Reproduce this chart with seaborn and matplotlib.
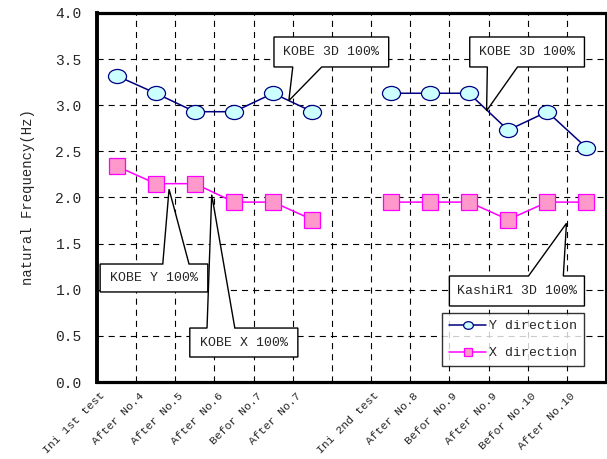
import numpy as np
import pandas as pd
import matplotlib
matplotlib.use("Agg")
import matplotlib.pyplot as plt
import matplotlib.transforms as mtransforms
from matplotlib.path import Path
from matplotlib.patches import Polygon
from matplotlib.lines import Line2D
import seaborn as sns

# ---- data -------------------------------------------------------------
stages = ["Ini 1st test", "After No.4", "After No.5", "After No.6",
          "Befor No.7", "After No.7", "",
          "Ini 2nd test", "After No.8", "Befor No.9", "After No.9",
          "Befor No.10", "After No.10"]
y_direction = [3.32, 3.13, 2.93, 2.93, 3.13, 2.93, np.nan,
               3.13, 3.13, 3.13, 2.73, 2.93, 2.54]
x_direction = [2.34, 2.15, 2.15, 1.95, 1.95, 1.76, np.nan,
               1.95, 1.95, 1.95, 1.76, 1.95, 1.95]
series_names = ["Y direction", "X direction"]
y_ticks = [0.0, 0.5, 1.0, 1.5, 2.0, 2.5, 3.0, 3.5, 4.0]

# callout: text, box (x0, x1, y_bottom, y_top), wedge side, wedge base x's, tip
callouts = [
    ("KOBE 3D 100%", (4.02, 6.95, 3.415, 3.74), "bottom", (4.50, 5.24), (4.40, 3.05)),
    ("KOBE 3D 100%", (9.02, 11.95, 3.415, 3.74), "bottom", (9.47, 10.24), (9.45, 2.94)),
    ("KOBE Y 100%", (-0.42, 2.33, 0.976, 1.279), "top", (1.18, 1.85), (1.34, 2.09)),
    ("KOBE X 100%", (1.87, 4.63, 0.271, 0.585), "top", (2.31, 3.02), (2.43, 2.03)),
    ("KashiR1 3D 100%", (8.50, 11.95, 0.824, 1.149), "top", (10.52, 11.41), (11.49, 1.72)),
]

# ---- styling ----------------------------------------------------------
sns.set_style("white")
plt.rcParams["font.family"] = ["Liberation Mono", "DejaVu Sans Mono"]

NAVY = "#000080"
CYAN = "#CCFFFF"
MAGENTA = "#FF00FF"
PINK = "#FF99CC"

circ = Path.unit_circle()
ellipse = Path(circ.vertices * np.array([1.0, 0.78]), circ.codes)

# long-form table, split at the empty stage so the two test runs stay separate
pos = np.arange(len(stages))
segment = np.where(pos < 6, 0, 1)
frames = []
for name, vals in zip(series_names, [y_direction, x_direction]):
    frames.append(pd.DataFrame({"pos": pos, "freq": vals,
                                "direction": name, "segment": segment}))
df = pd.concat(frames).dropna()

fig = plt.figure(figsize=(6.07, 4.59), dpi=100)
ax = fig.add_axes([97 / 607, 1 - 382 / 459, 509 / 607, 369 / 459])

styles = {
    "Y direction": dict(color=NAVY, marker=ellipse, markersize=13,
                        markerfacecolor=CYAN, markeredgecolor=NAVY),
    "X direction": dict(color=MAGENTA, marker="s", markersize=11.5,
                        markerfacecolor=PINK, markeredgecolor=MAGENTA),
}
for name in series_names:
    sub = df[df["direction"] == name]
    sns.lineplot(data=sub, x="pos", y="freq", units="segment", estimator=None,
                 ax=ax, linewidth=1.1, markeredgewidth=0.9, zorder=4,
                 legend=False, **styles[name])

# axes ranges, ticks and grid
ax.set_xlim(-0.5, len(stages) - 0.5)
ax.set_ylim(0, 4)
ax.set_yticks(y_ticks)
ax.set_yticklabels([f"{v:.1f}" for v in y_ticks], fontsize=10.5)
ax.set_xticks(pos)
ax.set_xticklabels([])
ax.set_xticks(np.arange(0.5, len(stages) - 1, 1), minor=True)
ax.tick_params(axis="both", which="both", length=0)
ax.tick_params(axis="y", pad=11)

# slanted stage names hanging below each category
shift = mtransforms.ScaledTranslation(-13 / 100, -12 / 100, fig.dpi_scale_trans)
for i, name in enumerate(stages):
    ax.text(i, 0, name, transform=ax.get_xaxis_transform() + shift,
            rotation=45, ha="right", va="center", rotation_mode="anchor",
            fontsize=8.2, clip_on=False)

ax.grid(False)
dash = (0, (5.5, 4.5))
ax.grid(axis="y", which="major", color="black", linewidth=0.8, linestyle=dash)
ax.grid(axis="x", which="minor", color="black", linewidth=0.8, linestyle=dash)
ax.set_axisbelow(True)

ax.set_xlabel("")
ax.set_ylabel("natural Frequency(Hz)", fontsize=10, labelpad=15)

for side, lw in [("left", 2.8), ("bottom", 2.3), ("top", 2.3), ("right", 1.4)]:
    ax.spines[side].set_visible(True)
    ax.spines[side].set_color("black")
    ax.spines[side].set_linewidth(lw)

# callout boxes
for text, (x0, x1, yb, yt), side, (b1, b2), (tx, ty) in callouts:
    if side == "bottom":
        verts = [(x0, yt), (x1, yt), (x1, yb), (b2, yb), (tx, ty), (b1, yb), (x0, yb)]
    else:
        verts = [(x0, yb), (x0, yt), (b1, yt), (tx, ty), (b2, yt), (x1, yt), (x1, yb)]
    ax.add_patch(Polygon(verts, closed=True, facecolor="white",
                         edgecolor="black", linewidth=1.0, zorder=5))
    ax.text((x0 + x1) / 2, (yb + yt) / 2, text, ha="center", va="center",
            fontsize=9.5, zorder=6)

# legend
handles = [
    Line2D([], [], color=NAVY, linewidth=1.1, marker=ellipse, markersize=7,
           markerfacecolor=CYAN, markeredgecolor=NAVY, markeredgewidth=0.9),
    Line2D([], [], color=MAGENTA, linewidth=1.1, marker="s", markersize=6,
           markerfacecolor=PINK, markeredgecolor=MAGENTA, markeredgewidth=0.9),
]
leg = ax.legend(handles, series_names, loc="upper left",
                bbox_to_anchor=(0.678, 0.187), borderaxespad=0,
                fancybox=False, frameon=True, fontsize=9.5,
                handlelength=2.8, handletextpad=0.2, labelspacing=1.1,
                borderpad=0.55)
leg.get_frame().set_edgecolor("black")
leg.get_frame().set_linewidth(1.0)
leg.set_zorder(7)

fig.savefig("out.png", dpi=100, facecolor="white")
